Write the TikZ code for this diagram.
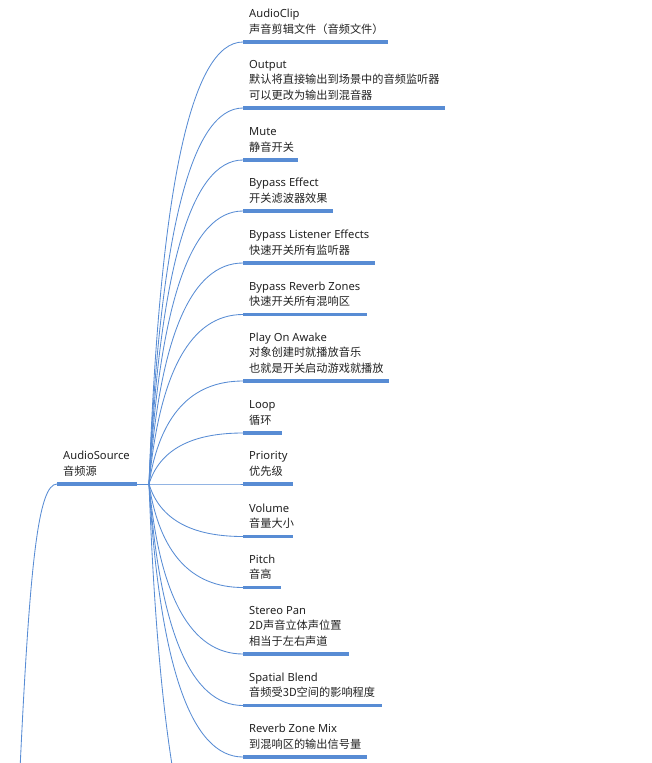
\documentclass[tikz,border=0pt]{standalone}
\usepackage{fontspec}
\setmainfont{Noto Sans}
\newfontfamily\cjk{Noto Sans CJK SC}
\usetikzlibrary{calc}
\definecolor{linec}{RGB}{88,140,212}
\definecolor{txtc}{RGB}{34,34,34}
\newcommand\mmbranch[1]{%
  \coordinate (q#1) at ([xshift=16pt]hub |- #1.west);
  \draw[conn] (hub) .. controls ($(hub)!2/3!(q#1)$) and ($(#1.west)!2/3!(q#1)$) .. (#1.west);}
\begin{document}
\begin{tikzpicture}[x=1pt,y=-1pt,
  bar/.style={rectangle, fill=linec, inner sep=0pt, minimum height=3.2pt, anchor=west},
  conn/.style={draw=linec, line width=0.85pt},
  txt/.style={anchor=base west, inner sep=0pt, yshift=-1pt, align=left, text=txtc, font=\fontsize{11.2}{15.2}\selectfont}]
\useasboundingbox (0,0) rectangle (651,763);
\clip (0,0) rectangle (651,763);
\coordinate (hub) at (149,484);
% root topic
\node[bar, minimum width=80pt] (src) at (57,484) {};
\node[txt] (srct) at (63,474) {AudioSource\\\cjk 音频源};
% children bars
\node[bar, minimum width=145pt] (b1) at (243,42) {};
\node[bar, minimum width=202pt] (b2) at (243,108) {};
\node[bar, minimum width=55pt] (b3) at (243,160) {};
\node[bar, minimum width=90pt] (b4) at (243,211) {};
\node[bar, minimum width=132pt] (b5) at (243,263) {};
\node[bar, minimum width=124pt] (b6) at (243,314.5) {};
\node[bar, minimum width=146pt] (b7) at (243,381) {};
\node[bar, minimum width=39pt] (b8) at (243,433) {};
\node[bar, minimum width=50pt] (b9) at (243,484) {};
\node[bar, minimum width=50pt] (b10) at (243,536.5) {};
\node[bar, minimum width=38pt] (b11) at (243,587.5) {};
\node[bar, minimum width=106pt] (b12) at (243,654) {};
\node[bar, minimum width=139pt] (b13) at (243,705.5) {};
\node[bar, minimum width=124pt] (b14) at (243,757) {};
% texts (anchored on the baseline of their last line)
\node[txt] (t1) at (249,32) {AudioClip\\\cjk 声音剪辑文件（音频文件）};
\node[txt] (t2) at (249,98) {Output\\\cjk 默认将直接输出到场景中的音频监听器\\\cjk 可以更改为输出到混音器};
\node[txt] (t3) at (249,150) {Mute\\\cjk 静音开关};
\node[txt] (t4) at (249,201) {Bypass Effect\\\cjk 开关滤波器效果};
\node[txt] (t5) at (249,253) {Bypass Listener Effects\\\cjk 快速开关所有监听器};
\node[txt] (t6) at (249,304.5) {Bypass Reverb Zones\\\cjk 快速开关所有混响区};
\node[txt] (t7) at (249,371) {Play On Awake\\\cjk 对象创建时就播放音乐\\\cjk 也就是开关启动游戏就播放};
\node[txt] (t8) at (249,423) {Loop\\\cjk 循环};
\node[txt] (t9) at (249,474) {Priority\\\cjk 优先级};
\node[txt] (t10) at (249,526.5) {Volume\\\cjk 音量大小};
\node[txt] (t11) at (249,577.5) {Pitch\\\cjk 音高};
\node[txt] (t12) at (249,644) {Stereo Pan\\\cjk 2D声音立体声位置\\\cjk 相当于左右声道};
\node[txt] (t13) at (249,695.5) {Spatial Blend\\\cjk 音频受3D空间的影响程度};
\node[txt] (t14) at (249,747) {Reverb Zone Mix\\\cjk 到混响区的输出信号量};
% connectors
\draw[conn] (src.east) -- (hub);
\foreach \b in {b1,b2,b3,b4,b5,b6,b7,b8,b9,b10,b11,b12,b13,b14} {\mmbranch{\b}}
\coordinate (nextc) at (243,920);
\mmbranch{nextc}
\coordinate (rootend) at (19.5,780);
\draw[conn] (src.west) .. controls (38,484) and (29.5,565) .. (rootend);
\end{tikzpicture}
\end{document}
